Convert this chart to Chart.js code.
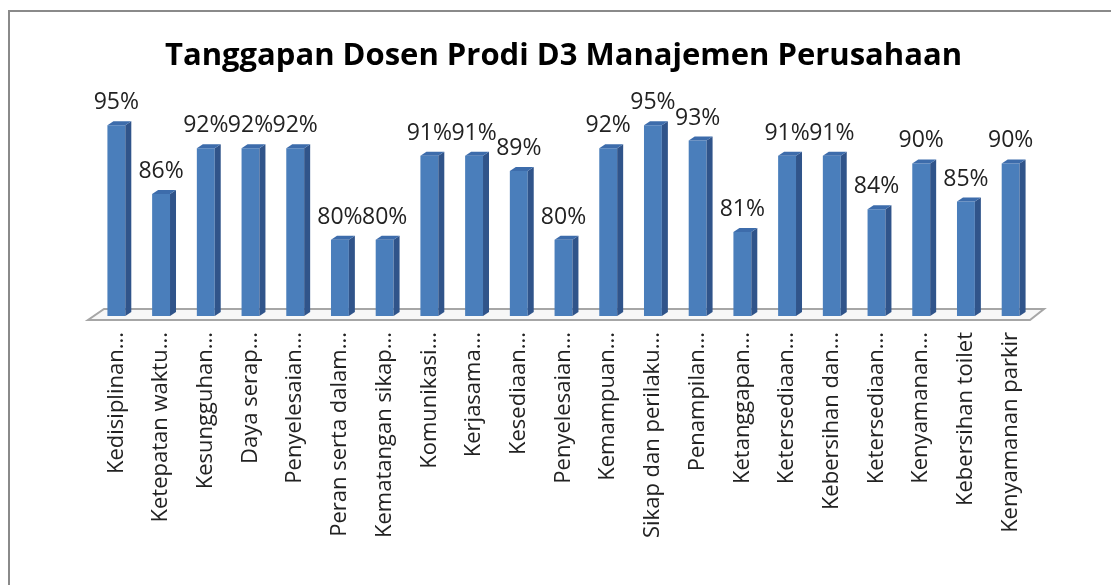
<!DOCTYPE html>
<html>
<head>
<meta charset="utf-8">
<script src="https://cdn.jsdelivr.net/npm/chart.js@4.4.0/dist/chart.umd.min.js"></script>
<style>
  html, body { margin: 0; padding: 0; background: #fff; }
  #wrap { position: relative; width: 1111px; height: 585px; overflow: hidden; }
  #frame { position: absolute; left: 8px; top: 10px; width: 1200px; height: 700px; border: 2px solid #8a8a8a; box-sizing: border-box; }
  #grafico { position: absolute; left: 0; top: 0; }
</style>
</head>
<body>
<div id="wrap">
  <div id="frame"></div>
  <canvas id="grafico" width="1111" height="585"></canvas>
</div>
<script>
// kategori penilaian (label terpotong seperti di gambar)
const kategori = [
  'Kedisiplinan...', 'Ketepatan waktu...', 'Kesungguhan...', 'Daya serap...',
  'Penyelesaian...', 'Peran serta dalam...', 'Kematangan sikap...', 'Komunikasi...',
  'Kerjasama...', 'Kesediaan...', 'Penyelesaian...', 'Kemampuan...',
  'Sikap dan perilaku...', 'Penampilan...', 'Ketanggapan...', 'Ketersediaan...',
  'Kebersihan dan...', 'Ketersediaan...', 'Kenyamanan...', 'Kebersihan toilet',
  'Kenyamanan parkir'
];
// persentase tanggapan
const nilai = [95, 86, 92, 92, 92, 80, 80, 91, 91, 89, 80, 92, 95, 93, 81, 91, 91, 84, 90, 85, 90];
const judul = 'Tanggapan Dosen Prodi D3 Manajemen Perusahaan';

const FONT = 'Open Sans';
const DX = 6, DY = 4;

// lantai 3D + sisi samping/atas batang
const efek3d = {
    id: 'efek3d',
    beforeDatasetsDraw(chart) {
        const ctx = chart.ctx;
        const a = chart.chartArea;
        const yb = a.bottom;
        ctx.save();
        ctx.beginPath();
        ctx.moveTo(a.left - 6, yb + 4);
        ctx.lineTo(a.right - 3, yb + 4);
        ctx.lineTo(a.right + 11, yb - 7);
        ctx.lineTo(a.left + 10, yb - 7);
        ctx.closePath();
        ctx.fillStyle = '#f7f7f7';
        ctx.fill();
        ctx.strokeStyle = '#a6a6a6';
        ctx.lineWidth = 2;
        ctx.stroke();
        ctx.restore();
    },
    afterDatasetsDraw(chart) {
        const ctx = chart.ctx;
        const a = chart.chartArea;
        const meta = chart.getDatasetMeta(0);
        ctx.save();
        meta.data.forEach(bar => {
            const w = bar.width;
            const l = bar.x - w / 2, r = bar.x + w / 2;
            const t = bar.y, b = Math.min(bar.base, a.bottom);
            // sisi kanan
            ctx.beginPath();
            ctx.moveTo(r, t);
            ctx.lineTo(r + DX, t - DY);
            ctx.lineTo(r + DX, b - DY);
            ctx.lineTo(r, b);
            ctx.closePath();
            ctx.fillStyle = '#30548a';
            ctx.fill();
            // sisi atas
            ctx.beginPath();
            ctx.moveTo(l, t);
            ctx.lineTo(l + DX, t - DY);
            ctx.lineTo(r + DX, t - DY);
            ctx.lineTo(r, t);
            ctx.closePath();
            ctx.fillStyle = '#3d6cab';
            ctx.fill();
        });
        // label nilai
        ctx.fillStyle = '#222';
        ctx.font = '23px "' + FONT + '"';
        ctx.textAlign = 'center';
        ctx.textBaseline = 'alphabetic';
        meta.data.forEach((bar, i) => {
            ctx.fillText(nilai[i] + '%', bar.x, bar.y - 16);
        });
        ctx.restore();
    }
};

const ctx = document.getElementById('grafico').getContext('2d');
new Chart(ctx, {
    type: 'bar',
    data: {
        labels: kategori,
        datasets: [{
            data: nilai,
            backgroundColor: '#4a7ebb',
            borderWidth: 0,
            barPercentage: 0.4,
            categoryPercentage: 1.0
        }]
    },
    options: {
        responsive: false,
        animation: false,
        layout: { padding: { left: 94, right: 78, top: 0, bottom: 0 } },
        plugins: {
            legend: { display: false },
            tooltip: { enabled: false },
            title: {
                display: true,
                text: judul,
                color: '#000',
                font: { family: FONT, size: 31, weight: 'bold', lineHeight: 1.2 },
                padding: { top: 38, bottom: 12 }
            }
        },
        scales: {
            y: {
                display: false,
                min: 70,
                max: 100
            },
            x: {
                grid: { display: false, drawTicks: false },
                border: { display: false },
                afterFit: s => { s.height = 269; },
                ticks: {
                    autoSkip: false,
                    maxRotation: 90,
                    minRotation: 90,
                    padding: 16,
                    color: '#222',
                    font: { family: FONT, size: 22 }
                }
            }
        }
    },
    plugins: [efek3d]
});
</script>
</body>
</html>
